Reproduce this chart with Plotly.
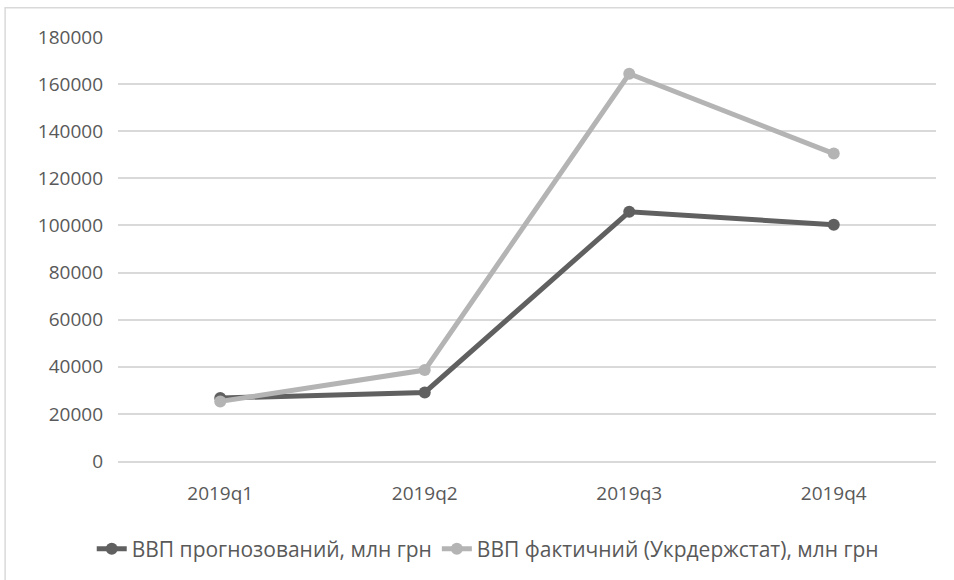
import plotly.graph_objects as go

quarters = ["2019q1", "2019q2", "2019q3", "2019q4"]
gdp_forecast = [26700, 29100, 105800, 100300]
gdp_actual = [25300, 38600, 164400, 130500]

name_forecast = "ВВП прогнозований, млн грн"
name_actual = "ВВП фактичний (Укрдержстат), млн грн"

font_family = "Open Sans, sans-serif"
text_color = "#595959"

fig = go.Figure()

fig.add_trace(go.Scatter(
    x=quarters, y=gdp_forecast, name=name_forecast,
    mode="lines+markers",
    line=dict(color="#606060", width=5),
    marker=dict(color="#606060", size=12),
))
fig.add_trace(go.Scatter(
    x=quarters, y=gdp_actual, name=name_actual,
    mode="lines+markers",
    line=dict(color="#b4b4b4", width=5),
    marker=dict(color="#b4b4b4", size=12),
))

# chart border (only top and left visible in the crop)
fig.add_shape(type="rect", xref="paper", yref="paper",
              x0=-0.138, x1=1.2, y0=-0.5, y1=1.069,
              line=dict(color="#d9d9d9", width=1.5), layer="below")

fig.update_layout(
    width=954, height=580,
    margin=dict(l=118, r=18, t=37, b=118),
    paper_bgcolor="white", plot_bgcolor="white",
    font=dict(family=font_family, size=19, color=text_color),
    showlegend=True,
    legend=dict(orientation="h", x=0.452, xanchor="center", y=-0.205, yanchor="middle",
                font=dict(size=21, color=text_color), itemwidth=30,
                traceorder="normal"),
    xaxis=dict(type="category", range=[-0.5, 3.5], showgrid=False,
               showline=True, linecolor="#d9d9d9", linewidth=1.5,
               ticks="", ticklabelstandoff=14, zeroline=False),
    yaxis=dict(range=[0, 180000], dtick=20000, showgrid=True,
               gridcolor="#d9d9d9", gridwidth=1.5, zeroline=False,
               showline=False, ticks="", ticklabelstandoff=14,
               tickformat="d"),
)

fig.write_html("out.html", config={"displayModeBar": False},
               post_script="document.body.style.margin='0px';")
